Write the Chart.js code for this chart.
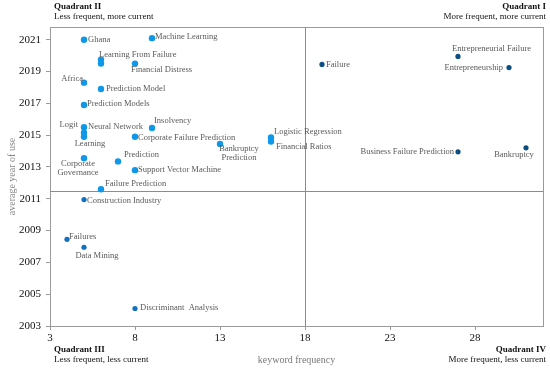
<!DOCTYPE html>
<html>
<head>
<meta charset="utf-8">
<script src="https://cdn.jsdelivr.net/npm/chart.js@4.4.1/dist/chart.umd.min.js"></script>
<style>
  html, body { margin: 0; padding: 0; background: #fff; }
  #wrap { width: 550px; height: 370px; }
</style>
</head>
<body>
<div id="wrap"><canvas id="quadrants"></canvas></div>
<script>
// keywords, their frequency and average year of use
var keywords = ["Ghana", "Machine Learning", "Learning From Failure", "", "Financial Distress",
  "Africa", "Prediction Model", "Prediction Models", "Logit", "Neural Network", "Learning",
  "Insolvency", "Corporate Failure Prediction", "Bankruptcy\nPrediction", "Logistic Regression",
  "Financial Ratios", "Prediction", "Corporate\nGovernance", "Support Vector Machine",
  "Failure Prediction", "Construction Industry", "Failures", "Data Mining", "Discriminant  Analysis",
  "Failure", "Entrepreneurial Failure", "Entrepreneurship", "Business Failure Prediction", "Bankruptcy"];
var frequency = [5, 9, 6, 6, 8,
  5, 6, 5, 5, 5, 5,
  9, 8, 13, 16,
  16, 7, 5, 8,
  6, 5, 4, 5, 8,
  19, 27, 30, 27, 31];
var avgYear = [2021.0, 2021.1, 2019.75, 2019.5, 2019.5,
  2018.3, 2017.9, 2016.9, 2015.5, 2015.15, 2014.9,
  2015.45, 2014.9, 2014.45, 2014.85,
  2014.6, 2013.35, 2013.55, 2012.8,
  2011.6, 2010.95, 2008.45, 2007.95, 2004.1,
  2019.45, 2019.95, 2019.25, 2013.95, 2014.2];
var xTicks = [3, 8, 13, 18, 23, 28];
var yTicks = [2003, 2005, 2007, 2009, 2011, 2013, 2015, 2017, 2019, 2021];
var xDivider = 18;
var yDivider = 2011.5;

// where each label sits next to its dot
var place = {
  "Ghana": [4, 0, "left"], "Machine Learning": [3, -1, "left"],
  "Learning From Failure": [-2, -5, "left"], "Financial Distress": [-4, 6, "left"],
  "Africa": [-1, -4, "right"], "Prediction Model": [5, 0, "left"],
  "Prediction Models": [3, -1, "left"], "Logit": [-6, -2, "right"],
  "Neural Network": [4, -6, "left"], "Learning": [6, 7, "center"],
  "Insolvency": [2, -7, "left"], "Corporate Failure Prediction": [3, 1, "left"],
  "Bankruptcy\nPrediction": [19, 5, "center"], "Logistic Regression": [3, -6, "left"],
  "Financial Ratios": [5, 5, "left"], "Prediction": [6, -7, "left"],
  "Corporate\nGovernance": [-6, 6, "center"], "Support Vector Machine": [3, 0, "left"],
  "Failure Prediction": [4, -5, "left"], "Construction Industry": [3, 1, "left"],
  "Failures": [2, -3, "left"], "Data Mining": [13, 8, "center"],
  "Discriminant  Analysis": [5, -1, "left"], "Failure": [4, 0, "left"],
  "Entrepreneurial Failure": [-6, -8, "left"], "Entrepreneurship": [-6, 0, "right"],
  "Business Failure Prediction": [-4, 0, "right"], "Bankruptcy": [-12, 7, "center"]
};

var points = keywords.map(function(k, i) { return { x: frequency[i], y: avgYear[i] }; });
var colors = points.map(function(p) {
  if (p.x >= xDivider) return "#0b4f82";
  if (p.y < yDivider) return "#1170c0";
  return "#0f97e8";
});
var radii = points.map(function(p) { return p.x >= xDivider || p.y < yDivider ? 2.6 : 3.2; });

var serif = "'Liberation Serif', 'Times New Roman', serif";

var quadrantPlugin = {
  id: "quadrantPlugin",
  beforeDatasetsDraw: function(chart) {
    var c = chart.ctx, a = chart.chartArea;
    var xs = chart.scales.x, ys = chart.scales.y;
    c.save();
    c.strokeStyle = "#9a9a9a";
    c.lineWidth = 1;
    c.strokeRect(a.left + 0.5, a.top + 0.5, a.right - a.left, a.bottom - a.top);
    var dx = Math.round(xs.getPixelForValue(xDivider)) + 0.5;
    var dy = Math.round(ys.getPixelForValue(yDivider)) + 0.5;
    c.strokeStyle = "#8c8c8c";
    c.beginPath();
    c.moveTo(dx, a.top); c.lineTo(dx, a.bottom);
    c.moveTo(a.left, dy); c.lineTo(a.right, dy);
    c.stroke();
    c.restore();
  },
  afterDraw: function(chart) {
    var c = chart.ctx;
    var xs = chart.scales.x, ys = chart.scales.y;
    c.save();
    c.font = "8.5px " + serif;
    c.fillStyle = "#5a5a5a";
    c.textBaseline = "middle";
    keywords.forEach(function(k, i) {
      if (!k) return;
      var p = place[k] || [4, 0, "left"];
      var px = xs.getPixelForValue(frequency[i]) + p[0];
      var py = ys.getPixelForValue(avgYear[i]) + p[1];
      c.textAlign = p[2];
      k.split("\n").forEach(function(line, j) { c.fillText(line, px, py + j * 9); });
    });
    // quadrant captions
    c.fillStyle = "#111";
    c.textBaseline = "middle";
    var caps = [
      ["Quadrant II", "Less frequent, more current", 54, 7, "left"],
      ["Quadrant I", "More frequent, more current", 546, 7, "right"],
      ["Quadrant III", "Less frequent, less current", 54, 350, "left"],
      ["Quadrant IV", "More frequent, less current", 546, 350, "right"]
    ];
    caps.forEach(function(q) {
      c.textAlign = q[4];
      c.font = "bold 9px " + serif;
      c.fillText(q[0], q[2], q[3]);
      c.font = "9px " + serif;
      c.fillText(q[1], q[2], q[3] + 10);
    });
    c.restore();
  }
};

new Chart(document.getElementById("quadrants"), {
  type: "scatter",
  data: {
    datasets: [{
      data: points,
      backgroundColor: colors,
      borderColor: colors,
      borderWidth: 0,
      pointRadius: radii,
      pointHoverRadius: radii
    }]
  },
  options: {
    responsive: true,
    maintainAspectRatio: false,
    animation: false,
    layout: { padding: { top: 27, right: 7, left: 0, bottom: 0 } },
    plugins: { legend: { display: false }, tooltip: { enabled: false } },
    scales: {
      x: {
        type: "linear",
        min: 3,
        max: 32,
        afterBuildTicks: function(s) { s.ticks = xTicks.map(function(v) { return { value: v }; }); },
        afterFit: function(s) { s.height = 44; },
        border: { display: true, color: "#9a9a9a" },
        grid: { drawOnChartArea: false, tickLength: 4, color: "#9a9a9a" },
        ticks: { color: "#111", padding: 2, font: { family: serif, size: 11 },
          callback: function(v) { return String(v); } },
        title: { display: true, text: "keyword frequency", color: "#777", padding: { top: 2 },
          font: { family: serif, size: 10 } }
      },
      y: {
        type: "linear",
        min: 2003,
        max: 2021.8,
        afterBuildTicks: function(s) { s.ticks = yTicks.map(function(v) { return { value: v }; }); },
        afterFit: function(s) { s.width = 50; },
        border: { display: true, color: "#9a9a9a" },
        grid: { drawOnChartArea: false, tickLength: 4, color: "#9a9a9a" },
        ticks: { color: "#111", padding: 5, font: { family: serif, size: 11 },
          callback: function(v) { return String(v); } },
        title: { display: true, text: "average year of use", color: "#888", padding: { top: 6, bottom: 0 },
          font: { family: serif, size: 10 } }
      }
    }
  },
  plugins: [quadrantPlugin]
});
</script>
</body>
</html>
